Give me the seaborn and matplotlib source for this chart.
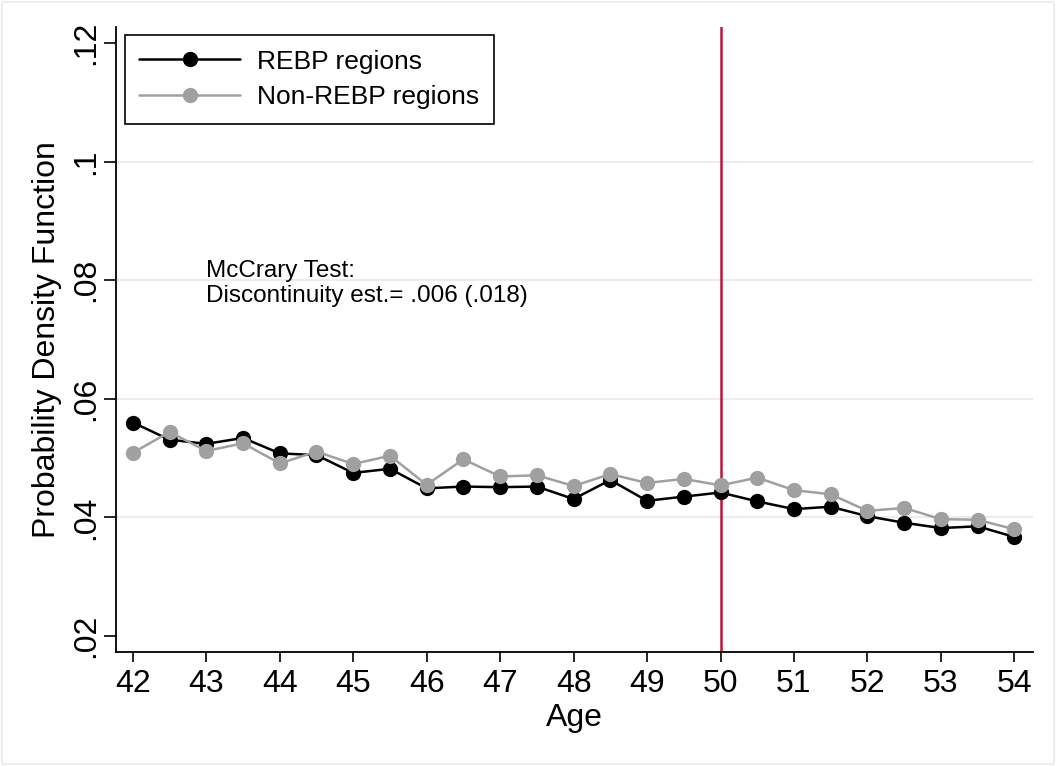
import numpy as np
import pandas as pd
import matplotlib
matplotlib.use("Agg")
import matplotlib.pyplot as plt
from matplotlib.patches import Rectangle
import seaborn as sns

# data
age = [42, 42.5, 43, 43.5, 44, 44.5, 45, 45.5, 46, 46.5, 47, 47.5,
       48, 48.5, 49, 49.5, 50, 50.5, 51, 51.5, 52, 52.5, 53, 53.5, 54]
rebp = [.0560, .0531, .0524, .0534, .0508, .0505, .0475, .0482, .0449, .0452, .0451, .0452,
        .0431, .0463, .0428, .0435, .0442, .0427, .0414, .0418, .0402, .0391, .0382, .0385, .0367]
non_rebp = [.0509, .0544, .0512, .0525, .0491, .0511, .0490, .0504, .0455, .0498, .0469, .0471,
            .0453, .0473, .0458, .0465, .0454, .0467, .0446, .0439, .0411, .0416, .0397, .0396, .0380]
series_names = ["REBP regions", "Non-REBP regions"]
yticks = [.02, .04, .06, .08, .1, .12]
ytick_labels = [".02", ".04", ".06", ".08", ".1", ".12"]
xticks = list(range(42, 55))
grid_y = [.04, .06, .08, .1]
cutoff = 50

sns.set_style("white")
plt.rcParams['font.family'] = ['Liberation Sans', 'DejaVu Sans']
plt.rcParams['text.color'] = 'black'
plt.rcParams['axes.labelcolor'] = 'black'
plt.rcParams['xtick.color'] = 'black'
plt.rcParams['ytick.color'] = 'black'

df = pd.DataFrame({
    "Age": age * 2,
    "pdf": rebp + non_rebp,
    "group": [series_names[0]] * len(age) + [series_names[1]] * len(age),
})

fig = plt.figure(figsize=(10.57, 7.66), dpi=100)
# faint outer frame like the Stata graph region
fig.patches.append(Rectangle((0.002, 0.003), 0.995, 0.994, transform=fig.transFigure,
                             fill=False, edgecolor="#e6eef0", lw=1.2))
ax = fig.add_axes([0.1097, 0.1488, 0.868, 0.816])

for y in grid_y:
    ax.axhline(y, color="#e6eef0", lw=1.5, zorder=0)

ax.axvline(cutoff, color="#c0143c", lw=1.8, zorder=1)

sns.lineplot(data=df, x="Age", y="pdf", hue="group", hue_order=series_names,
             palette=["black", "#a0a0a0"], marker="o", markersize=11,
             markeredgewidth=0, linewidth=1.8, ax=ax, zorder=3, legend=True)

ax.set_xlim(41.77, 54.26)
ax.set_ylim(0.0173, 0.1227)
ax.set_xticks(xticks)
ax.set_xticklabels([str(t) for t in xticks], fontsize=23)
ax.set_yticks(yticks)
ax.set_yticklabels(ytick_labels, fontsize=23, rotation=90, va="center")
ax.tick_params(axis="y", length=9, width=1.2, pad=2, left=True)
ax.tick_params(axis="x", length=7, width=1.2, pad=5, bottom=True)
ax.set_xlabel("Age", fontsize=23, labelpad=3)
ax.set_ylabel("Probability Density Function", fontsize=23, labelpad=6)

for side in ["top", "right"]:
    ax.spines[side].set_visible(False)
for side in ["left", "bottom"]:
    ax.spines[side].set_color("black")
    ax.spines[side].set_linewidth(1.3)

ax.text(43, 0.0794, "McCrary Test:\nDiscontinuity est.= .006 (.018)",
        fontsize=17.5, va="center", ha="left", linespacing=1.15)

handles, labels = ax.get_legend_handles_labels()
leg = ax.legend(handles, labels, loc="upper left", bbox_to_anchor=(0.0098, 0.987),
                borderaxespad=0, fontsize=19, handlelength=3.8, fancybox=False,
                framealpha=1, edgecolor="black", borderpad=0.55, labelspacing=0.45,
                handletextpad=0.65)
leg.get_frame().set_linewidth(1.2)
leg.set_zorder(5)

fig.savefig("out.png", dpi=100, facecolor="white")
